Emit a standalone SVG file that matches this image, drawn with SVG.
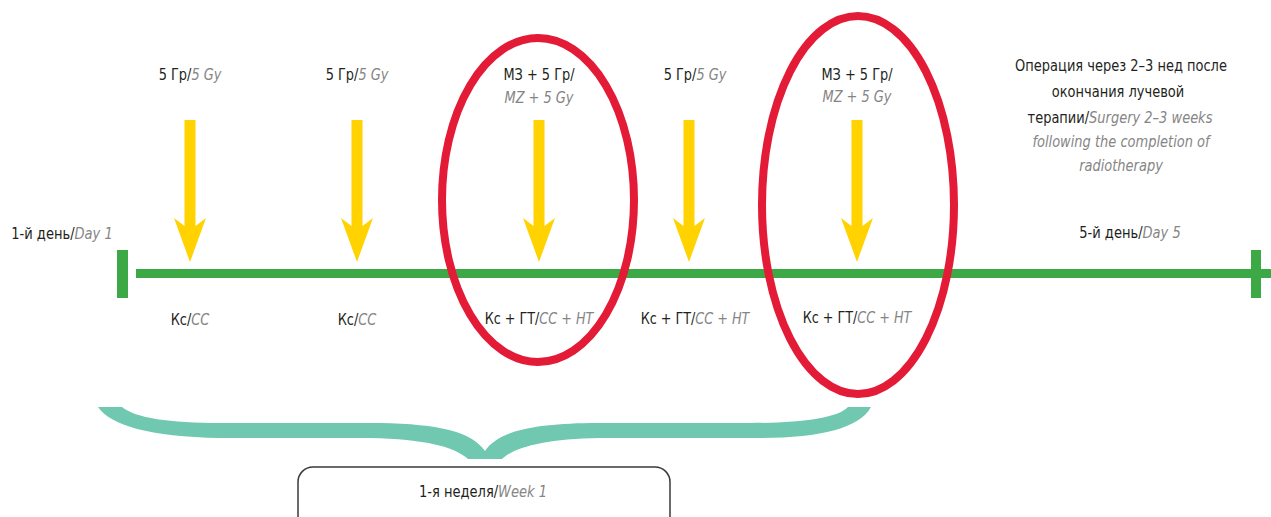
<svg xmlns="http://www.w3.org/2000/svg" width="1271" height="517" viewBox="0 0 1271 517">
  <style>
    text { font-family: "Liberation Sans Narrow", "DejaVu Sans Condensed", "Roboto Condensed", sans-serif; font-size: 16.5px; fill: #231f20; text-anchor: middle; }
    .en { font-style: italic; fill: #858585; }
    .dose { fill: #ffd200; }
    .axis { fill: #3ca946; }
    .ring { fill: none; stroke: #e31b36; stroke-width: 8; }
    .brace { fill: #70c8b0; }
    .box { fill: none; stroke: #3a3a3a; stroke-width: 1.5; }
  </style>
  <defs>
    <!-- downward dose arrow, tip at origin -->
    <path id="dose-arrow" d="M-5.5,-142 L5.5,-142 L5.5,-36 L16,-44 L0,0 L-16,-44 L-5.5,-36 Z"/>
  </defs>

  <!-- timeline axis -->
  <g id="timeline">
    <rect class="axis" x="136" y="269" width="1135" height="9"/>
    <rect class="axis" x="117" y="250" width="11" height="48"/>
    <rect class="axis" x="1251" y="250" width="10" height="48"/>
  </g>

  <!-- dose arrows -->
  <g id="connectors">
    <use href="#dose-arrow" class="dose" x="190" y="262"/>
    <use href="#dose-arrow" class="dose" x="357" y="262"/>
    <use href="#dose-arrow" class="dose" x="539" y="262"/>
    <use href="#dose-arrow" class="dose" x="689" y="262"/>
    <use href="#dose-arrow" class="dose" x="857" y="262"/>
  </g>

  <!-- highlighted fractions -->
  <g id="highlight-1"><ellipse class="ring" cx="538" cy="200" rx="96" ry="162"/></g>
  <g id="highlight-2"><ellipse class="ring" cx="858" cy="205" rx="96" ry="189"/></g>

  <!-- labels are drawn with a condensed horizontal scale -->
  <g id="day1">
    <text transform="translate(62,239) scale(0.88,1)">1-й день/<tspan class="en">Day 1</tspan></text>
  </g>

  <g id="fraction-1">
    <text transform="translate(190,80) scale(0.87,1)">5 Гр/<tspan class="en">5 Gy</tspan></text>
    <text transform="translate(190,325) scale(0.87,1)">Кс/<tspan class="en">CC</tspan></text>
  </g>
  <g id="fraction-2">
    <text transform="translate(357,80) scale(0.87,1)">5 Гр/<tspan class="en">5 Gy</tspan></text>
    <text transform="translate(357,325) scale(0.87,1)">Кс/<tspan class="en">CC</tspan></text>
  </g>
  <g id="fraction-3">
    <text transform="translate(539,80) scale(0.87,1)">МЗ + 5 Гр/</text>
    <text class="en" transform="translate(539,103) scale(0.87,1)">MZ + 5 Gy</text>
    <text transform="translate(539,324) scale(0.86,1)">Кс + ГТ/<tspan class="en">CC + HT</tspan></text>
  </g>
  <g id="fraction-4">
    <text transform="translate(695,80) scale(0.87,1)">5 Гр/<tspan class="en">5 Gy</tspan></text>
    <text transform="translate(695,324) scale(0.86,1)">Кс + ГТ/<tspan class="en">CC + HT</tspan></text>
  </g>
  <g id="fraction-5">
    <text transform="translate(857,80) scale(0.87,1)">МЗ + 5 Гр/</text>
    <text class="en" transform="translate(857,102) scale(0.87,1)">MZ + 5 Gy</text>
    <text transform="translate(857,323) scale(0.86,1)">Кс + ГТ/<tspan class="en">CC + HT</tspan></text>
  </g>

  <g id="surgery">
    <text transform="translate(1121,71) scale(0.876,1)">Операция через 2–3 нед после</text>
    <text transform="translate(1118,97) scale(0.876,1)">окончания лучевой</text>
    <text transform="translate(1120,123) scale(0.876,1)">терапии/<tspan class="en">Surgery 2–3 weeks</tspan></text>
    <text class="en" transform="translate(1121,147) scale(0.876,1)">following the completion of</text>
    <text class="en" transform="translate(1121,171) scale(0.876,1)">radiotherapy</text>
  </g>

  <g id="day5">
    <text transform="translate(1130,238) scale(0.88,1)">5-й день/<tspan class="en">Day 5</tspan></text>
  </g>

  <!-- week brace and label -->
  <g id="week1">
    <path class="brace" d="M122,407 C135,418 170,423 220,423 L380,423 C440,424 472,432 485,451 C498,432 530,424 590,423 L750,423 C800,423 838,418 848,407 L871,407 C860,428 820,438 760,438 L600,438 C545,439 515,447 502,459 L468,459 C455,447 425,439 370,438 L220,438 C150,437 110,425 98,407 Z"/>
    <rect class="box" x="298" y="467" width="372" height="70" rx="15"/>
    <text transform="translate(483,497) scale(0.88,1)">1-я неделя/<tspan class="en">Week 1</tspan></text>
  </g>
</svg>
